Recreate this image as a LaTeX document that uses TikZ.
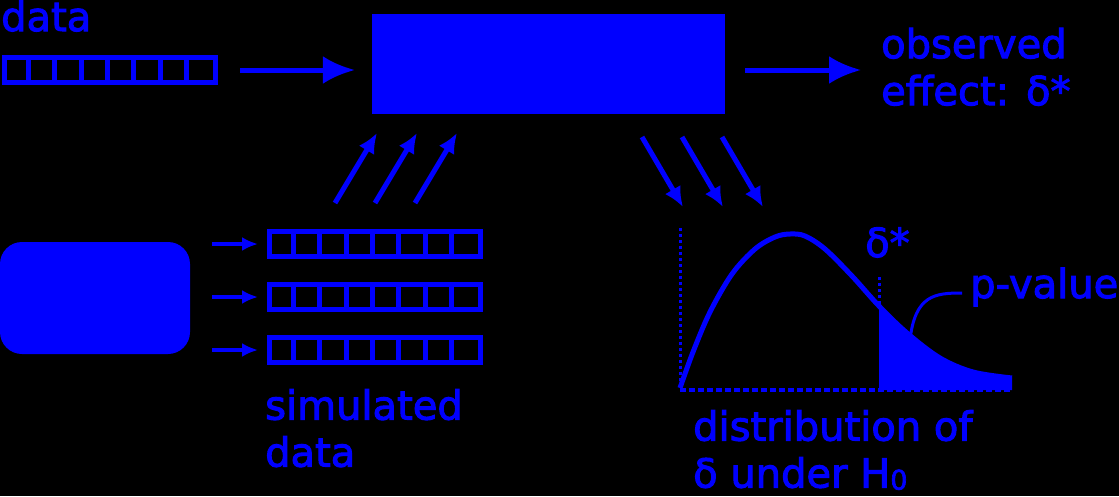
\documentclass[tikz,border=0pt]{standalone}
\usepackage{fontspec}
\setmainfont{DejaVu Sans}[FakeBold=2.5]
\usetikzlibrary{arrows.meta}
\definecolor{myblue}{RGB}{0,0,255}
\tikzset{
  lbl/.style={inner sep=0pt, text=myblue, font=\fontsize{40}{47}\selectfont, align=left},
  arr/.style={myblue, line width=5pt, -{Latex[length=32pt,width=28pt]}},
  darr/.style={myblue, line width=5pt, -{Latex[length=20pt,width=18pt]}},
  sarr/.style={myblue, line width=4pt, -{Latex[length=16pt,width=14pt]}},
  cellrow/.style={draw=myblue, line width=5pt, minimum width=211pt, minimum height=25pt, inner sep=0pt},
  divider/.style={myblue, line width=5pt},
  dotline/.style={myblue, line width=3pt, dash pattern=on 3pt off 3pt},
}
\newcommand{\celldividers}[1]{%
  \foreach \i in {1,...,7}
    \draw[divider] ([xshift=\i*26.375pt]#1.north west) -- ([xshift=\i*26.375pt]#1.south west);%
}
\begin{document}
\begin{tikzpicture}[x=1pt,y=-1pt]
\fill[black] (0,0) rectangle (1119,496);
\useasboundingbox (0,0) rectangle (1119,496);

% main process box
\node[fill=myblue, minimum width=353pt, minimum height=100pt, inner sep=0pt] (proc) at (548.5,63.5) {};

% observed data
\node[lbl, anchor=base west] (dlab) at (1,31) {data};
\node[cellrow] (obs) at (110,70) {};
\celldividers{obs}

% generator
\node[fill=myblue, rounded corners=22pt, minimum width=190pt, minimum height=112pt, inner sep=0pt] (gen) at (95,298) {};

% simulated data
\node[cellrow] (s1) at (375,244) {};
\node[cellrow] (s2) at (375,297) {};
\node[cellrow] (s3) at (375,350) {};
\celldividers{s1}
\celldividers{s2}
\celldividers{s3}
\node[lbl, anchor=north west] (simlab) at (265,389) {simulated\\data};

% arrows
\draw[arr] ([xshift=22pt]obs.east) -- ([xshift=-17pt]proc.west |- obs.east);
\node[lbl, anchor=north west] (effect) at (881,27.6) {observed\\effect: δ*};
\draw[arr] ([xshift=20pt]proc.east |- obs.east) -- ([xshift=-20pt]effect.west |- obs.east);

\draw[sarr] ([xshift=22pt]gen.east |- s1.west) -- ([xshift=-9pt]s1.west);
\draw[sarr] ([xshift=22pt]gen.east |- s2.west) -- ([xshift=-9pt]s2.west);
\draw[sarr] ([xshift=22pt]gen.east |- s3.west) -- ([xshift=-9pt]s3.west);

% simulated data -> process
\coordinate (u1a) at (335,203); \coordinate (u1b) at (377,133);
\coordinate (u2a) at (375,203); \coordinate (u2b) at (417,133);
\coordinate (u3a) at (415,203); \coordinate (u3b) at (457,133);
\draw[darr] (u1a) -- (u1b);
\draw[darr] (u2a) -- (u2b);
\draw[darr] (u3a) -- (u3b);

% process -> distribution
\coordinate (d1a) at (642,137); \coordinate (d1b) at (683,207);
\coordinate (d2a) at (682,137); \coordinate (d2b) at (723,207);
\coordinate (d3a) at (722,137); \coordinate (d3b) at (763,207);
\draw[darr] (d1a) -- (d1b);
\draw[darr] (d2a) -- (d2b);
\draw[darr] (d3a) -- (d3b);

% distribution plot
\begin{scope}
  \clip (879,200) rectangle (1013,392);
  \fill[myblue] plot[smooth,tension=0.55] coordinates {(680,388) (693,352) (710,312) (732,274) (755,249) (775,237) (790,234) (805,236) (825,249) (852,276) (879,306) (907,333) (940,358) (973,372) (1012,378)} -- (1012,390) -- (680,390) -- cycle;
\end{scope}
\draw[dotline] (680,228) -- (680,388);
\draw[myblue, line width=4pt, dash pattern=on 6pt off 3pt] (680,390) -- (1012,390);
\draw[myblue, line width=5pt, line join=round] plot[smooth,tension=0.55] coordinates {(680,388) (693,352) (710,312) (732,274) (755,249) (775,237) (790,234) (805,236) (825,249) (852,276) (879,306) (907,333) (940,358) (973,372) (1012,378)};
\draw[dotline] (879,277) -- (879,306);

\node[lbl, anchor=base west] (dstar) at (865,257) {δ*};
\node[lbl, anchor=base west] (pval) at (970,298) {p-value};
\coordinate (tail) at (910,340);
\coordinate (pend) at (962,293);
\draw[myblue, line width=3pt] (tail) .. controls (915,295) and (935,293) .. (pend);

\node[lbl, anchor=north west] (distlab) at (693,410) {distribution of\\δ under H\raisebox{-2pt}{\fontsize{27}{27}\selectfont 0}};
\end{tikzpicture}
\end{document}
